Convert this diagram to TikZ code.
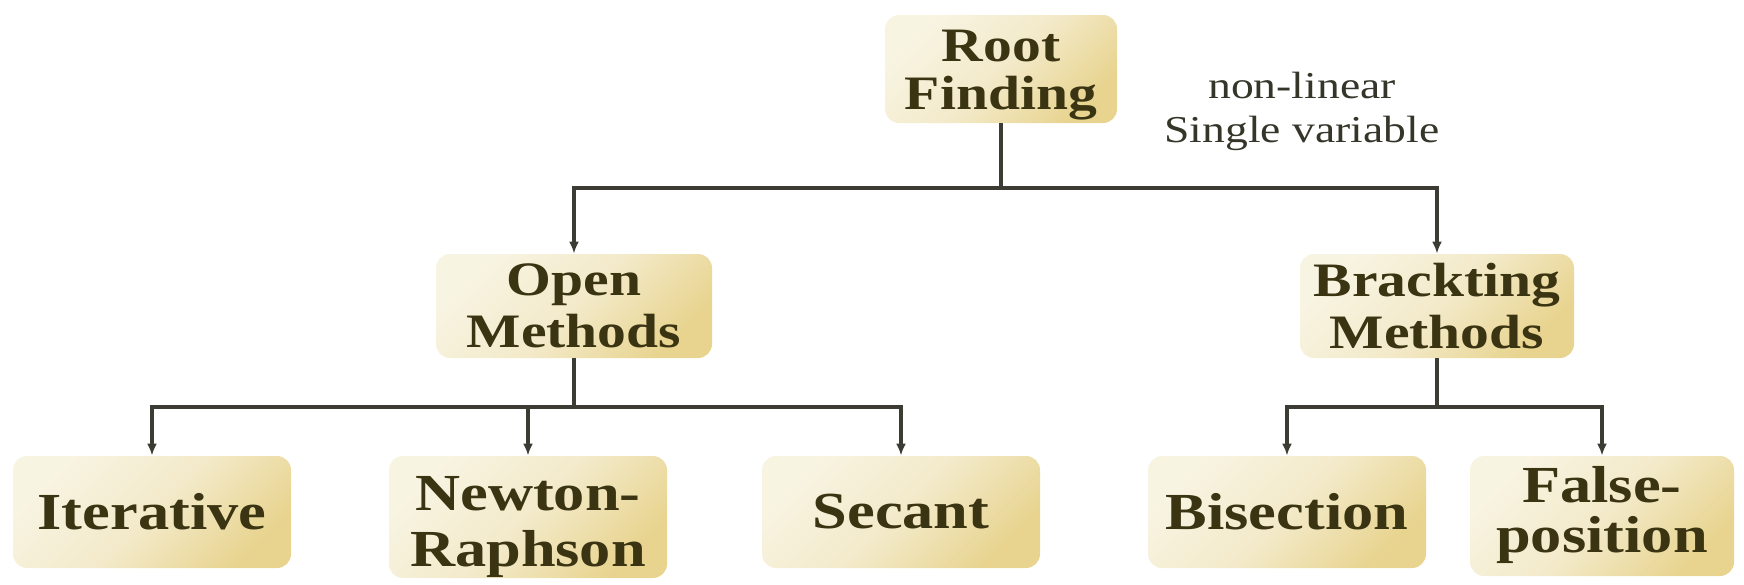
\documentclass[tikz,border=0pt]{standalone}
\usepackage{fontspec}
\usetikzlibrary{arrows.meta}
\newfontfamily\boxfont{Liberation Serif}[FakeStretch=1.2]
\definecolor{boxlight}{HTML}{F8F4E2}
\definecolor{boxmid}{HTML}{F3EACA}
\definecolor{boxdark}{HTML}{E8D48F}
\definecolor{inkcol}{HTML}{3A3412}
\definecolor{notecol}{HTML}{35352A}
\definecolor{linecol}{HTML}{3C3C34}

\tikzset{
  methodbox/.style={rounded corners=7pt, top color=boxlight, bottom color=boxdark,
    middle color=boxmid, shading angle=45, text=inkcol, align=center, inner sep=0pt,
    font=\boxfont\bfseries\fontsize{24}{26}\selectfont},
  leafbox/.style={methodbox, minimum width=139pt, minimum height=56pt,
    font=\boxfont\bfseries\fontsize{26}{28}\selectfont},
  link/.style={draw=linecol, line width=1.6pt, -{Latex[length=6pt,width=5pt]}},
}

\begin{document}
\begin{tikzpicture}[x=0.5pt, y=-0.5pt]
		\useasboundingbox (0,0) rectangle (1744,584);
		% top level
		\node [methodbox, minimum width=116pt, minimum height=54pt, text height=45pt, text depth=5pt,
		  font=\boxfont\bfseries\fontsize{24}{24}\selectfont] (root) at (1001,69) {Root\\Finding};
		\node [text=notecol, align=center, font=\boxfont\fontsize{19}{22}\selectfont] (note) at (1302,111) {non-linear\\Single variable};
		% second level
		\node [methodbox, minimum width=138pt, minimum height=52pt] (open) at (574,306) {Open\\Methods};
		\node [methodbox, minimum width=137pt, minimum height=52pt] (brack) at (1437,306) {Brackting\\Methods};
		% leaves
		\node [leafbox] (iter) at (152,512) {Iterative};
		\node [leafbox, minimum height=61pt, text height=54pt, text depth=5pt] (newton) at (528,517) {Newton-\\Raphson};
		\node [leafbox, minimum width=132pt, minimum height=60pt, text height=42pt, text depth=6pt,
		  font=\boxfont\bfseries\fontsize{26}{25}\selectfont] (falsepos) at (1602,516) {False-\\position};
		\node [leafbox] (secant) at (901,512) {Secant};
		\node [leafbox] (bisect) at (1287,512) {Bisection};
		% connectors
		\coordinate (rootbar) at (1001,188);
		\coordinate (openbar) at (574,407);
		\coordinate (brackbar) at (1437,407);
		\draw [link] (root.south) -- (rootbar) -| (open.north);
		\draw [link] (root.south) -- (rootbar) -| (brack.north);
		\draw [link] (open.south) -- (openbar) -| (iter.north);
		\draw [link] (open.south) -- (openbar) -| (newton.north);
		\draw [link] (open.south) -- (openbar) -| (secant.north);
		\draw [link] (brack.south) -- (brackbar) -| (bisect.north);
		\draw [link] (brack.south) -- (brackbar) -| (falsepos.north);
\end{tikzpicture}
\end{document}
